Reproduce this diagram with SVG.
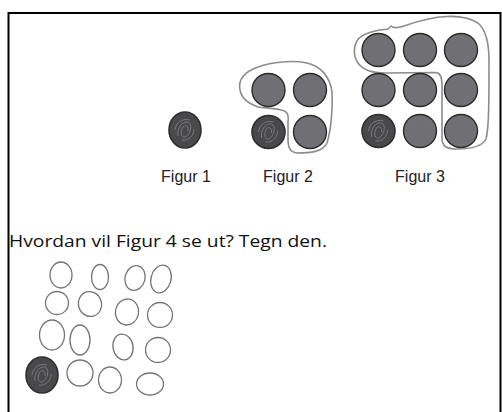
<svg xmlns="http://www.w3.org/2000/svg" width="502" height="412" viewBox="0 0 502 412">
<style>
.dot{fill:#707074;stroke:#2a2a2a;stroke-width:1.4}
.scrib{fill:#49494b;stroke:#2e2e2e;stroke-width:1.6}
.swirl{fill:none;stroke:#7a7a7e;stroke-width:1}
.hand{fill:none;stroke:#747474;stroke-width:1.3}
.loop{fill:none;stroke:#8c8c8c;stroke-width:1.6;stroke-linejoin:round;stroke-linecap:round}
.lbl{font-family:"Liberation Sans",Arial,sans-serif;font-size:16px;fill:#222}
.q{font-family:"Open Sans","Liberation Sans",sans-serif;font-size:17px;fill:#111}
</style>
<defs>
  <path id="sw" class="swirl" d="M-7,6 C-8,-2 -3,-9 3,-8 C8,-6 6,4 0,7 C-4,8 -5,2 -2,-3 C0,-6 4,-4 3,1 M-10,0 C-9,-8 -2,-12 5,-10 M-3,10 C3,11 9,6 9,-1"/>
</defs>
<rect width="502" height="412" fill="#fff"/>
<path d="M8.5,412 V13 H500.5 V412" fill="none" stroke="#000" stroke-width="2"/>

<g id="figur1">
  <ellipse class="scrib" cx="185" cy="130" rx="16" ry="18"/>
  <use href="#sw" x="185" y="130"/>
  <text class="lbl" x="186" y="182" text-anchor="middle">Figur 1</text>
</g>

<g id="figur2">
  <path class="loop" d="M258,107 C250,104 242,100 240,90 C238,80 244,72 258,67 C272,62 292,60 307,63 C320,66 330,76 332,92 C333,108 331,130 327,143 C323,152 310,153 297,153 C289,152 288,146 288,138 L288,122 C289,116 288,111 281,110 C274,108 264,108 258,107"/>
  <circle class="dot" cx="268.5" cy="90" r="16.5"/>
  <circle class="dot" cx="310" cy="90" r="16.5"/>
  <circle class="scrib" cx="268.5" cy="132" r="16.5"/>
  <use href="#sw" x="268.5" y="132"/>
  <circle class="dot" cx="310" cy="132" r="16.5"/>
  <text class="lbl" x="288" y="182" text-anchor="middle">Figur 2</text>
</g>

<g id="figur3">
  <path class="loop" d="M391,26 L388,29 C378,30 366,32 359,38 C353,45 353,56 358,63 C363,70 372,73 385,73 L436,72.5 C441,73 442,78 442,86 L442,138 C442,146 446,149 457,149 C470,149 482,147 486,139 C489,128 489,100 489,60 C489,42 486,30 478,23 C470,18 458,16 447,16.5 C432,17 418,21 404,26 C398,28 393,28 391,26 Z"/>
  <circle class="dot" cx="378.5" cy="50" r="16.5"/>
  <circle class="dot" cx="420" cy="50" r="16.5"/>
  <circle class="dot" cx="461" cy="50" r="16.5"/>
  <circle class="dot" cx="378.5" cy="90" r="16.5"/>
  <circle class="dot" cx="420" cy="90" r="16.5"/>
  <circle class="dot" cx="461" cy="90" r="16.5"/>
  <circle class="scrib" cx="378.5" cy="131" r="16.5"/>
  <use href="#sw" x="378.5" y="131"/>
  <circle class="dot" cx="420" cy="131" r="16.5"/>
  <circle class="dot" cx="461" cy="131" r="16.5"/>
  <text class="lbl" x="420" y="182" text-anchor="middle">Figur 3</text>
</g>

<g id="question">
  <text class="q" x="9" y="247" textLength="318" lengthAdjust="spacingAndGlyphs">Hvordan vil Figur 4 se ut? Tegn den.</text>
</g>

<g id="figur4">
  <ellipse class="hand" cx="61" cy="275" rx="11" ry="13"/>
  <ellipse class="hand" cx="100" cy="277" rx="8.5" ry="12.5"/>
  <ellipse class="hand" cx="135" cy="278" rx="10" ry="12.5" transform="rotate(15 135 278)"/>
  <ellipse class="hand" cx="161" cy="279" rx="10" ry="14" transform="rotate(15 161 279)"/>
  <ellipse class="hand" cx="57" cy="303" rx="11.5" ry="11.5"/>
  <ellipse class="hand" cx="90" cy="304" rx="11.5" ry="12.5" transform="rotate(-15 90 304)"/>
  <ellipse class="hand" cx="127" cy="312" rx="11.5" ry="13" transform="rotate(10 127 312)"/>
  <ellipse class="hand" cx="160" cy="315" rx="12.5" ry="12.5"/>
  <ellipse class="hand" cx="52" cy="335" rx="12.5" ry="15"/>
  <ellipse class="hand" cx="80" cy="340" rx="10" ry="15"/>
  <ellipse class="hand" cx="123" cy="347" rx="10" ry="13" transform="rotate(-10 123 347)"/>
  <ellipse class="hand" cx="158" cy="350" rx="12.5" ry="12.5"/>
  <ellipse class="scrib" cx="42" cy="375" rx="16" ry="18"/>
  <use href="#sw" x="42" y="375"/>
  <ellipse class="hand" cx="80" cy="373" rx="13" ry="13"/>
  <ellipse class="hand" cx="110" cy="380" rx="11.5" ry="13"/>
  <ellipse class="hand" cx="150" cy="384" rx="13.5" ry="11"/>
</g>
</svg>
